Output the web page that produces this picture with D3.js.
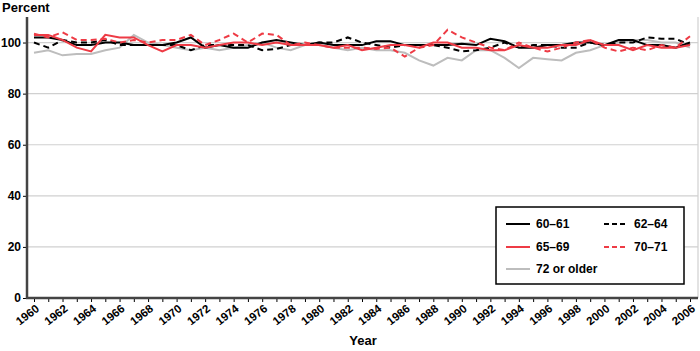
<!DOCTYPE html>
<html><head><meta charset="utf-8">
<script src="https://cdn.jsdelivr.net/npm/d3@7"></script>
<style>body{margin:0;background:#fff}svg{display:block;font-family:"Liberation Sans",Arial,sans-serif}</style>
</head><body><svg id="c" width="700" height="351"></svg>
<script>
const years = d3.range(1960, 2007);
const s6061 = [102,102,101,99,99,100,100,99,99,99,100,102,98,99,98,98,100,101,100,99,100,99,99,99,100.5,100.5,99,99,99,99,99.5,99,101.5,100.5,98,98,99,99,100,100,99,101,101,99,99,98,100];
const s6264 = [100,98,101,100,100,101,99,99,99,99,99,97,99,99,99,99,97,97.5,99,99,100,100,102,100,99,98,99,99,99,98,96.5,97,98,100,98,99,99,98,98,100,99,100,100,102,101.5,101.5,99];
const s6569 = [103,103,101,98,96.5,103,102,102,99,96.5,99,99,98,99,100,100,99,100,99,99,99,98,99,97,98,99,99,98,100,100,98,98,97,97,99,98,98,99,99,101,99,99,97,99,98,98,99];
const s7071 = [103.5,102,104,101,101,101.5,100,101,100,101,101,103,99,101,103.5,100,103.5,103,99,100,99,98,98,98,97.5,98,94.5,98,99,105,102,100,98,97,100,98,96.5,98,100,101,98,96.5,98,97,99,98,102.5];
const s72 = [96,97,95,95.5,95.5,97,98,103,100,99,98,97,98,97,98,99,100,98,97,99,99,98,97,98,97,97,96,93,91,94,93,97,97,94,90,94,93.5,93,96,97,99,100,101,101,100,100,98];
const yTicks = [0,20,40,60,80,100];
const xLabels = d3.range(1960, 2007, 2);

const series = [
  {name:"72 or older", values:s72, color:"#bdbdbd", dash:null},
  {name:"62–64", values:s6264, color:"#000", dash:"6,4"},
  {name:"60–61", values:s6061, color:"#000", dash:null},
  {name:"70–71", values:s7071, color:"#ee3b45", dash:"6,4"},
  {name:"65–69", values:s6569, color:"#ee3b45", dash:null}
];

const svg = d3.select("#c");
const L = 27, R = 698, T = 17, B = 298;
const x = d3.scaleLinear().domain([1960, 2006]).range([34, 690]);
const y = d3.scaleLinear().domain([0, 110]).range([B, T]);

// grid
svg.append("g").selectAll("line").data(yTicks.filter(d=>d>0)).join("line")
  .attr("x1", L).attr("x2", R).attr("y1", d=>y(d)).attr("y2", d=>y(d))
  .attr("stroke", "#d0d0d0").attr("stroke-width", 1.2);
svg.append("line").attr("x1", R).attr("x2", R).attr("y1", T).attr("y2", B)
  .attr("stroke", "#d0d0d0").attr("stroke-width", 1.2);

// y axis
const ya = svg.append("g").attr("transform", `translate(${L},0)`)
  .call(d3.axisLeft(y).tickValues(yTicks).tickSize(4).tickPadding(2));
ya.select(".domain").remove();
ya.selectAll("text").attr("font-size", 12).attr("font-weight", "bold").attr("fill", "#000").attr("font-family", "Liberation Sans, Arial, sans-serif");
ya.selectAll("line").attr("stroke", "#000");
svg.append("line").attr("x1", L).attr("x2", L).attr("y1", T).attr("y2", B+1)
  .attr("stroke", "#444").attr("stroke-width", 2.5);

// lines
const line = d3.line().x((d,i)=>x(years[i])).y(d=>y(d));
svg.append("g").selectAll("path").data(series).join("path")
  .attr("d", d=>line(d.values)).attr("fill", "none")
  .attr("stroke", d=>d.color).attr("stroke-width", 2)
  .attr("stroke-dasharray", d=>d.dash);

// x axis
const xa = svg.append("g").attr("transform", `translate(0,${B})`)
  .call(d3.axisBottom(x).tickValues(years).tickSize(4).tickFormat(""));
xa.select(".domain").remove();
xa.selectAll("line").attr("stroke", "#000");
svg.append("line").attr("x1", L-1).attr("x2", R).attr("y1", B).attr("y2", B)
  .attr("stroke", "#444").attr("stroke-width", 2.5);
svg.append("g").selectAll("text").data(xLabels).join("text")
  .attr("transform", d=>`translate(${x(d)+6},${B+12}) rotate(-38)`)
  .attr("text-anchor", "end").attr("font-size", 11.5).attr("font-weight", "bold")
  .attr("fill", "#000").text(d=>d);

// titles
svg.append("text").attr("x", 2).attr("y", 12).attr("font-size", 13).attr("font-weight", "bold").text("Percent");
svg.append("text").attr("x", 363).attr("y", 345).attr("text-anchor", "middle").attr("font-size", 13).attr("font-weight", "bold").text("Year");

// legend
const leg = svg.append("g");
leg.append("rect").attr("x", 496).attr("y", 207).attr("width", 188).attr("height", 77)
  .attr("fill", "#fff").attr("stroke", "#000").attr("stroke-width", 1.5);
const legItems = [
  {s:series[2], cx:506, cy:224},
  {s:series[1], cx:604, cy:224},
  {s:series[4], cx:506, cy:247},
  {s:series[3], cx:604, cy:247},
  {s:series[0], cx:506, cy:269}
];
legItems.forEach(it=>{
  leg.append("line").attr("x1", it.cx).attr("x2", it.cx+24).attr("y1", it.cy).attr("y2", it.cy)
    .attr("stroke", it.s.color).attr("stroke-width", 2).attr("stroke-dasharray", it.s.dash ? "5,3" : null);
  leg.append("text").attr("x", it.cx+30).attr("y", it.cy+4).attr("font-size", 12).attr("font-weight", "bold").text(it.s.name);
});
</script></body></html>
